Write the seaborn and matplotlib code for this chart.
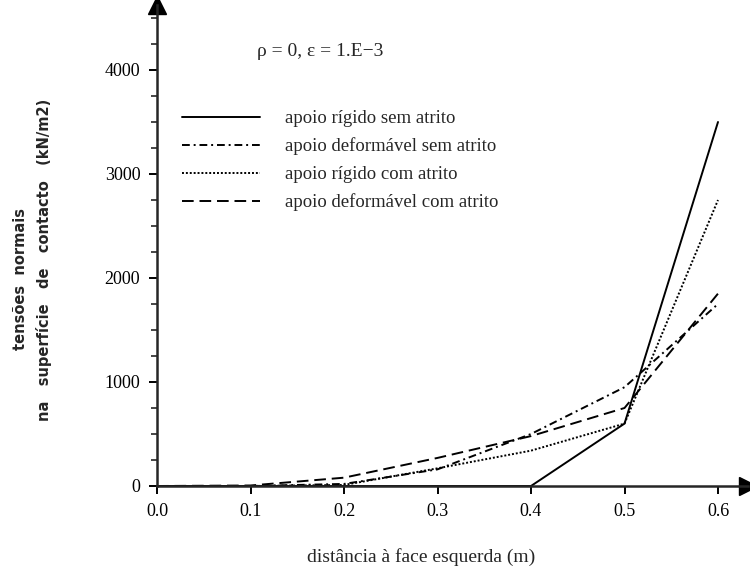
import matplotlib
matplotlib.use("Agg")
import matplotlib.pyplot as plt
import seaborn as sns
import pandas as pd
from matplotlib.ticker import MultipleLocator

sns.set_style("ticks")
plt.rcParams["font.family"] = ["Liberation Serif", "DejaVu Serif"]

# data
x = [0.0, 0.1, 0.2, 0.3, 0.4, 0.5, 0.6]
rigido_sem = [0, 0, 0, 0, 0, 600, 3500]
deform_sem = [0, 0, 20, 160, 500, 950, 1750]
rigido_com = [0, 0, 10, 170, 340, 600, 2750]
deform_com = [0, 5, 80, 270, 480, 750, 1850]

labels = [
    "apoio rígido sem atrito",
    "apoio deformável sem atrito",
    "apoio rígido com atrito",
    "apoio deformável com atrito",
]
series = [rigido_sem, deform_sem, rigido_com, deform_com]
styles = ["-", (0, (4, 2, 1, 2)), (0, (1, 1)), (0, (6, 3))]

fig = plt.figure(figsize=(7.5, 5.7), dpi=100)
ax = fig.add_axes([157 / 750, 1 - 486 / 570, (748 - 157) / 750, (486 - 5) / 570])

for lab, ys, ls in zip(labels, series, styles):
    df = pd.DataFrame({"x": x, "y": ys})
    sns.lineplot(data=df, x="x", y="y", ax=ax, color="black", linewidth=1.4,
                 linestyle=ls, label=lab)

ax.set_xlim(0, (748 - 157) / 935)
ax.set_ylim(0, (486 - 5) / 0.104)

sns.despine(ax=ax)
for s in ["left", "bottom"]:
    ax.spines[s].set_linewidth(1.8)
ax.plot(1, 0, ">k", markersize=13, transform=ax.get_yaxis_transform(), clip_on=False)
ax.plot(0, 1, "^k", markersize=13, transform=ax.get_xaxis_transform(), clip_on=False)

ax.set_xticks([0.0, 0.1, 0.2, 0.3, 0.4, 0.5, 0.6])
ax.set_xticklabels(["0.0", "0.1", "0.2", "0.3", "0.4", "0.5", "0.6"])
ax.set_yticks([0, 1000, 2000, 3000, 4000])
ax.yaxis.set_minor_locator(MultipleLocator(250))
ax.tick_params(axis="both", which="major", direction="out", length=6, width=1.4,
               labelsize=13, pad=6, colors="black")
ax.tick_params(axis="y", which="minor", direction="out", length=4, width=1.2)

ax.set_xlabel("distância à face esquerda (m)", fontsize=14)
ax.xaxis.set_label_coords((421 - 157) / 591, (486 - 548) / 481)
ax.set_ylabel("")
fig.text(21 / 750, 1 - 279 / 570, "tensões  normais", rotation=90, fontsize=10.5,
         fontweight="bold", ha="center", va="center", family=["DejaVu Sans"])
fig.text(44 / 750, 1 - 260 / 570, "na   superfície   de   contacto   (kN/m2)",
         rotation=90, fontsize=10.5, fontweight="bold", ha="center", va="center",
         family=["DejaVu Sans"])

fig.text(257 / 750, 1 - 52 / 570, "ρ = 0, ε = 1.E−3", fontsize=14, va="center")

ax.legend(loc="upper left", bbox_to_anchor=(182 / 750, 1 - 110 / 570),
          bbox_transform=fig.transFigure, frameon=False, fontsize=13.5,
          handlelength=4.16, handletextpad=1.33, labelspacing=0.56,
          borderpad=0, borderaxespad=0)

fig.savefig("out.png", dpi=100)
